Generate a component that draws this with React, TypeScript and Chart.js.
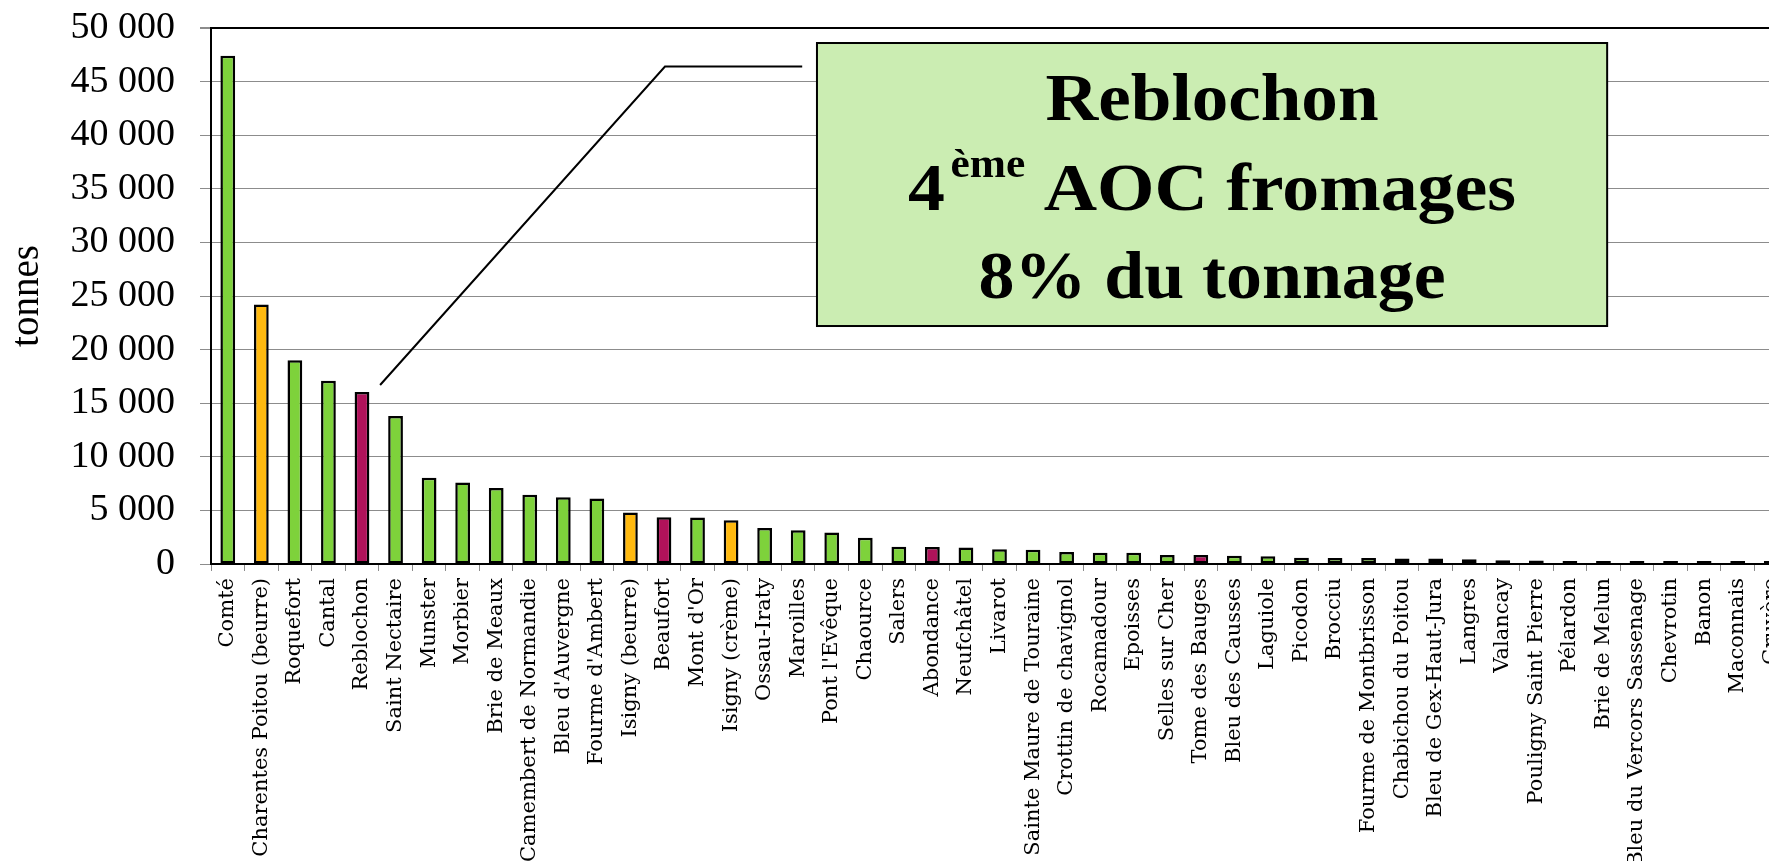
import { useEffect, useRef } from 'react';
import { Chart, registerables } from 'chart.js';

Chart.register(...registerables);

const categories = [
  'Comté', 'Charentes Poitou (beurre)', 'Roquefort', 'Cantal', 'Reblochon', 'Saint Nectaire',
  'Munster', 'Morbier', 'Brie de Meaux', 'Camembert de Normandie', "Bleu d'Auvergne",
  "Fourme d'Ambert", 'Isigny (beurre)', 'Beaufort', "Mont d'Or", 'Isigny (crème)',
  'Ossau-Iraty', 'Maroilles', "Pont l'Evêque", 'Chaource', 'Salers', 'Abondance',
  'Neufchâtel', 'Livarot', 'Sainte Maure de Touraine', 'Crottin de chavignol', 'Rocamadour',
  'Epoisses', 'Selles sur Cher', 'Tome des Bauges', 'Bleu des Causses', 'Laguiole',
  'Picodon', 'Brocciu', 'Fourme de Montbrisson', 'Chabichou du Poitou',
  'Bleu de Gex-Haut-Jura', 'Langres', 'Valancay', 'Pouligny Saint Pierre', 'Pélardon',
  'Brie de Melun', 'Bleu du Vercors Sassenage', 'Chevrotin', 'Banon', 'Maconnais', 'Gruyère',
];

const tonnes = [
  47400, 24200, 19000, 17100, 16050, 13800,
  8050, 7600, 7100, 6450, 6230,
  6100, 4800, 4360, 4330, 4080,
  3360, 3150, 2930, 2460, 1620, 1590,
  1530, 1370, 1340, 1120, 1060,
  1050, 830, 830, 770, 730,
  580, 550, 550, 520,
  520, 450, 360, 330, 260,
  250, 200, 110, 80, 75, 65,
];

// g = fromage, o = beurre / crème, m = Savoie
const groups = [
  'g', 'o', 'g', 'g', 'm', 'g',
  'g', 'g', 'g', 'g', 'g',
  'g', 'o', 'm', 'g', 'o',
  'g', 'g', 'g', 'g', 'g', 'm',
  'g', 'g', 'g', 'g', 'g',
  'g', 'g', 'm', 'g', 'g',
  'g', 'g', 'g', 'g',
  'g', 'g', 'g', 'g', 'g',
  'g', 'g', 'm', 'g', 'g', 'g',
];

const groupColors: Record<string, string> = { g: '#7ED23B', o: '#FFB90F', m: '#B0125A' };

const yTickValues = [0, 5000, 10000, 15000, 20000, 25000, 30000, 35000, 40000, 45000, 50000];
const yTitle = 'tonnes';

const calloutTitle = 'Reblochon';
const calloutRank = '4';
const calloutSup = 'ème';
const calloutRankRest = 'AOC fromages';
const calloutShare = '8% du tonnage';

const fmt = (v: number) => String(v).replace(/\B(?=(\d{3})+(?!\d))/g, ' ');

const calloutPlugin = {
  id: 'callout',
  afterDraw(chart: any) {
    const { ctx } = chart;
    const x = chart.scales.x;
    const y = chart.scales.y;
    const reb = categories.indexOf('Reblochon');
    ctx.save();
    ctx.strokeStyle = '#000';
    ctx.lineWidth = 2;
    ctx.beginPath();
    ctx.moveTo(x.getPixelForValue(reb + 0.54), y.getPixelForValue(tonnes[reb] + 650));
    ctx.lineTo(x.getPixelForValue(13.03), y.getPixelForValue(46400));
    ctx.lineTo(x.getPixelForValue(17.12), y.getPixelForValue(46400));
    ctx.stroke();

    const bl = x.getPixelForValue(17.56);
    const br = x.getPixelForValue(41.11);
    const bt = y.getPixelForValue(48600);
    const bb = y.getPixelForValue(22200);
    ctx.fillStyle = '#CBEDB2';
    ctx.fillRect(bl, bt, br - bl, bb - bt);
    ctx.lineWidth = 2;
    ctx.strokeStyle = '#000';
    ctx.strokeRect(bl, bt, br - bl, bb - bt);

    const cx = (bl + br) / 2;
    const big = 'bold 68px "Liberation Serif"';
    const small = 'bold 40px "Liberation Serif"';
    ctx.fillStyle = '#000';
    ctx.textBaseline = 'alphabetic';
    ctx.textAlign = 'left';

    const drawFit = (parts: { t: string; f: string; dy: number; gap?: number }[], baseline: number, target: number) => {
      let natural = 0;
      const ws = parts.map((p) => {
        ctx.font = p.f;
        const w = ctx.measureText(p.t).width + (p.gap || 0);
        natural += w;
        return w;
      });
      const s = target / natural;
      ctx.save();
      ctx.translate(cx - target / 2, baseline);
      ctx.scale(s, 1);
      let px = 0;
      parts.forEach((p, i) => {
        ctx.font = p.f;
        ctx.fillText(p.t, px, p.dy);
        px += ws[i];
      });
      ctx.restore();
    };

    drawFit([{ t: calloutTitle, f: big, dy: 0 }], bt + 77, 333);
    drawFit(
      [
        { t: calloutRank, f: big, dy: 0, gap: 5 },
        { t: calloutSup, f: small, dy: -33 },
        { t: ' ' + calloutRankRest, f: big, dy: 0 },
      ],
      bt + 167,
      608,
    );
    drawFit([{ t: calloutShare, f: big, dy: 0 }], bt + 255, 467);
    ctx.restore();
  },
};

export default function App() {
  const ref = useRef<HTMLCanvasElement>(null);

  useEffect(() => {
    if (!ref.current) return;
    const chart = new Chart(ref.current, {
      type: 'bar',
      data: {
        labels: categories,
        datasets: [
          {
            data: tonnes,
            backgroundColor: groups.map((g) => groupColors[g]),
            borderColor: '#000',
            borderWidth: 2.5,
            borderSkipped: false,
            barPercentage: 0.44,
            categoryPercentage: 1,
            minBarLength: 3,
          },
        ],
      },
      options: {
        responsive: false,
        animation: false,
        devicePixelRatio: 1,
        layout: { padding: { top: 28, right: 30, left: 0, bottom: 0 } },
        plugins: { legend: { display: false }, tooltip: { enabled: false } },
        scales: {
          x: {
            afterFit: (s: any) => {
              s.height = 297;
            },
            grid: {
              display: true,
              drawOnChartArea: false,
              drawTicks: true,
              tickLength: 7,
              tickColor: '#8c8c8c',
              offset: true,
            },
            border: { color: '#000', width: 2 },
            ticks: {
              autoSkip: false,
              maxRotation: 90,
              minRotation: 90,
              padding: 7,
              color: '#000',
              font: { family: '"DejaVu Serif"', size: 21 },
            },
          },
          y: {
            min: 0,
            max: 50000,
            afterFit: (s: any) => {
              s.width = 211;
              s.paddingTop = 0;
              s.paddingBottom = 0;
            },
            afterBuildTicks: (s: any) => {
              s.ticks = yTickValues.map((v) => ({ value: v }));
            },
            grid: {
              color: (c: any) => (c.tick && c.tick.value === 50000 ? '#000' : '#8c8c8c'),
              lineWidth: (c: any) => (c.tick && c.tick.value === 50000 ? 2 : 1),
              tickLength: 11,
              tickColor: '#8c8c8c',
            },
            border: { color: '#000', width: 2 },
            ticks: {
              autoSkip: false,
              padding: 25,
              color: '#000',
              font: { family: '"Liberation Serif"', size: 38 },
              callback: (v: any) => fmt(Number(v)),
            },
            title: {
              display: true,
              text: yTitle,
              color: '#000',
              padding: { top: 4, bottom: 0 },
              font: { family: '"Liberation Serif"', size: 39 },
            },
          },
        },
      },
      plugins: [calloutPlugin],
    });
    return () => chart.destroy();
  }, []);

  return (
    <div style={{ position: 'absolute', left: 0, top: 0, width: 1769, height: 861, overflow: 'hidden', background: '#fff' }}>
      <canvas ref={ref} width={1818} height={861} style={{ display: 'block', width: 1818, height: 861 }} />
    </div>
  );
}
